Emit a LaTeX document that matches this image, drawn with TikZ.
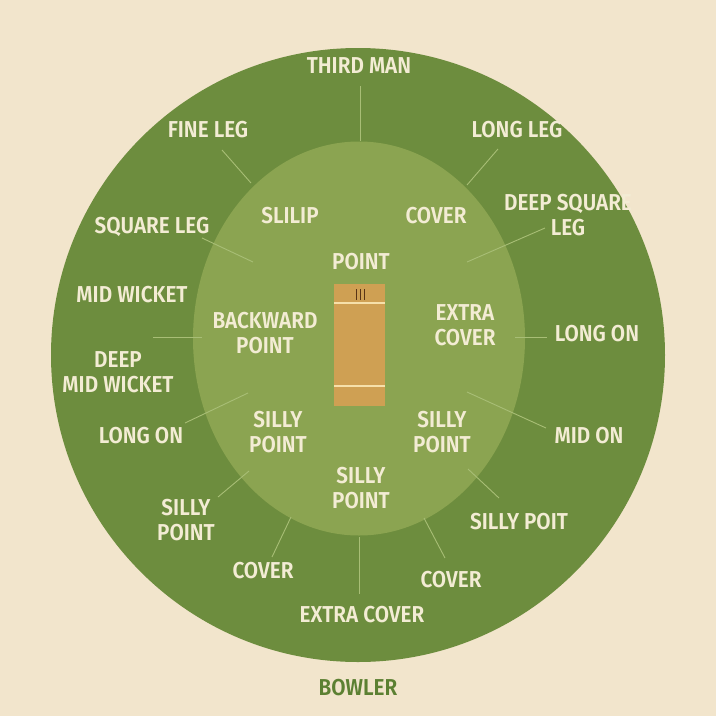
\documentclass[tikz,border=0pt]{standalone}
\usepackage{fontspec}
\setmainfont{Fira Sans SemiBold}[FakeStretch=0.9]
\usetikzlibrary{positioning}

\definecolor{cream}{RGB}{242,229,204}
\definecolor{deepgreen}{RGB}{109,141,62}
\definecolor{ringgreen}{RGB}{139,164,81}
\definecolor{pitchtan}{RGB}{207,160,83}
\definecolor{creasetan}{RGB}{246,224,170}
\definecolor{stumpbrown}{RGB}{88,52,22}
\definecolor{labelcream}{RGB}{243,236,212}
\definecolor{guidegreen}{RGB}{168,190,118}
\definecolor{bowlergreen}{RGB}{92,128,50}

\tikzset{
  fielder/.style={text=labelcream, align=center, inner sep=0pt,
                  font=\fontsize{23}{24.5}\selectfont},
  guide/.style={draw=guidegreen, line width=0.9pt},
}

\begin{document}
\begin{tikzpicture}[x=1pt,y=-1pt]
    % draw the background
    \fill[cream] (0,0) rectangle (716,716);
    \useasboundingbox (0,0) rectangle (716,716);

    % the field and the inner ring
    \fill[deepgreen] (358,355) circle (307);
    \fill[ringgreen] (359,338.5) ellipse [x radius=166, y radius=197];

    % the pitch
    \fill[pitchtan] (334,284) rectangle (385,406);
    \draw[creasetan, line width=1.6pt] (334,303) -- (385,303);
    \draw[creasetan, line width=1.6pt] (334,386) -- (385,386);
    \draw[stumpbrown, line width=1pt] (356,289) -- (356,300)
                                      (360,289) -- (360,300)
                                      (364,289) -- (364,300);

    % guide lines
    \draw[guide] (360,86)  -- (360,141);
    \draw[guide] (222,150) -- (251,183);
    \draw[guide] (498,149) -- (467,185);
    \draw[guide] (202,238) -- (253,262);
    \draw[guide] (545,228) -- (467,262);
    \draw[guide] (153,337) -- (202,337);
    \draw[guide] (515,337) -- (547,337);
    \draw[guide] (185,423) -- (248,393);
    \draw[guide] (467,392) -- (546,428);
    \draw[guide] (218,497) -- (249,471);
    \draw[guide] (468,469) -- (499,498);
    \draw[guide] (272,557) -- (291,517);
    \draw[guide] (424,518) -- (445,558);
    \draw[guide] (359,537) -- (359,594);

    % outfield
    \node[fielder] (thirdman)   at (359,66)  {THIRD MAN};
    \node[fielder] (fineleg)    at (208,130) {FINE LEG};
    \node[fielder] (longleg)    at (517,130) {LONG LEG};
    \node[fielder] (deepsqleg)  at (568,215) {DEEP SQUARE\\LEG};
    \node[fielder] (squareleg)  at (152,227) {SQUARE LEG};
    \node[fielder] (midwicket)  at (132,295) {MID WICKET};
    \node[fielder] (deepmidwkt) at (118,372) {DEEP\\MID WICKET};
    \node[fielder] (longonl)    at (141,436) {LONG ON};
    \node[fielder] (longonr)    at (597,334) {LONG ON};
    \node[fielder] (midon)      at (589,436) {MID ON};
    \node[fielder] (sillyptl)   at (186,520) {SILLY\\POINT};
    \node[fielder] (sillypoit)  at (519,522) {SILLY POIT};
    \node[fielder] (coverl)     at (263,571) {COVER};
    \node[fielder] (coverr)     at (451,580) {COVER};
    \node[fielder] (extracover) at (362,615) {EXTRA COVER};

    % infield
    \node[fielder] (slilip)     at (290,216) {SLILIP};
    \node[fielder] (coverin)    at (436,216) {COVER};
    \node[fielder] (point)      at (361,262) {POINT};
    \node[fielder] (backpoint)  at (265,333) {BACKWARD\\POINT};
    \node[fielder] (extracovin) at (465,325) {EXTRA\\COVER};
    \node[fielder] (sillyinl)   at (278,432) {SILLY\\POINT};
    \node[fielder] (sillyinr)   at (442,432) {SILLY\\POINT};
    \node[fielder] (sillyinb)   at (361,488) {SILLY\\POINT};

    % Bowler below the field
    \node[fielder, text=bowlergreen] (bowler) at (358,688) {BOWLER};
  \end{tikzpicture}
\end{document}
